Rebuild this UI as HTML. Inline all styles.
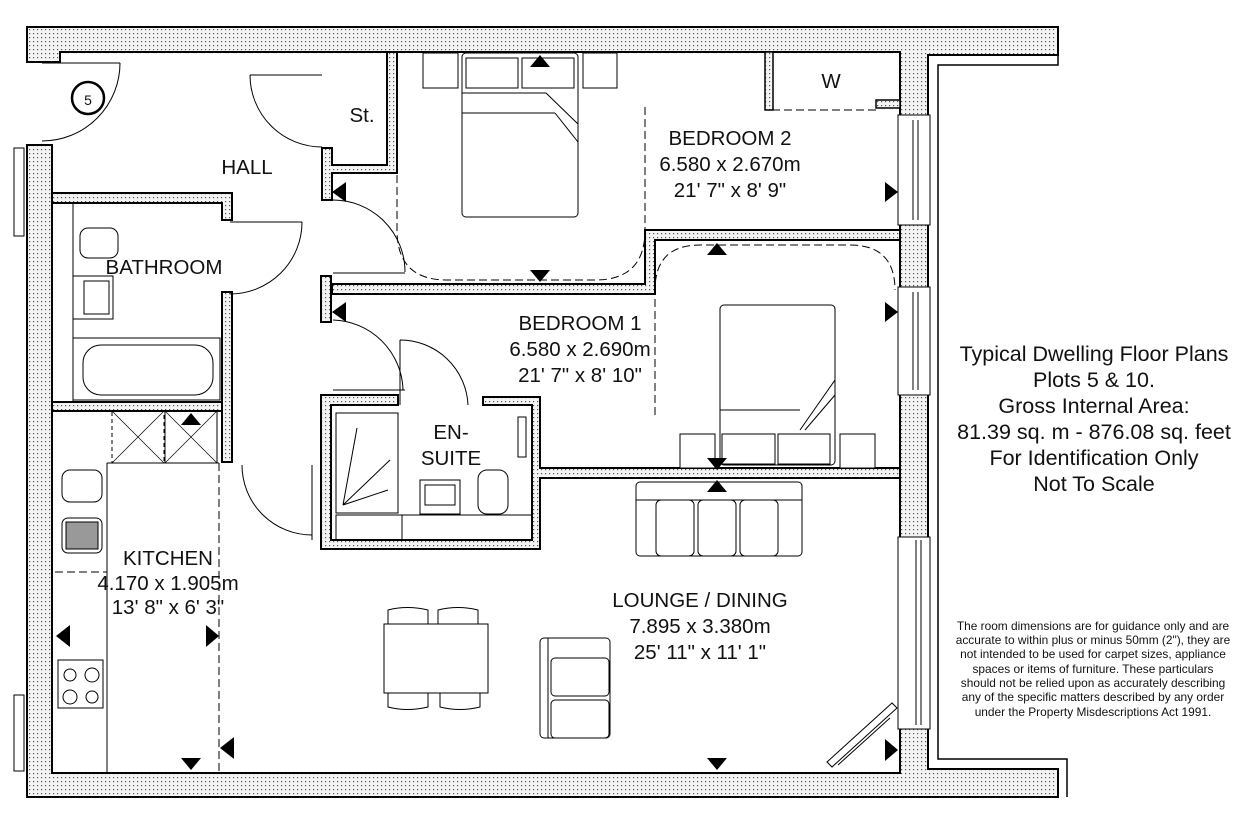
<!DOCTYPE html>
<html><head><meta charset="utf-8"><style>
html,body{margin:0;padding:0;background:#fff;}
svg{display:block;}
text{font-family:"Liberation Sans",Arial,sans-serif;fill:#111;}
</style></head><body>
<svg width="1254" height="817" viewBox="0 0 1254 817" xmlns="http://www.w3.org/2000/svg">
<defs>
<pattern id="dot" width="4" height="4" patternUnits="userSpaceOnUse">
<rect width="4" height="4" fill="#f4f4f4"/><rect x="1" y="1" width="1.2" height="1.2" fill="#555"/>
</pattern>
</defs>
<g stroke="#000" fill="url(#dot)">
<path d="M27,27 H1058 V55 H928 V769 H1058 V797 H27 V145 H52 V773 H900 V52 H60 V62 H27 Z" stroke-width="2"/>
<path d="M1058,52 V65 H938 V759 H1067 V797" fill="none" stroke-width="1.5"/>
<path d="M52,193 H232 V220 H222 V203 H52 Z" stroke-width="2"/>
<rect x="222" y="292" width="10" height="170" stroke-width="2"/>
<rect x="52" y="402" width="170" height="9" stroke-width="2"/>
<path d="M387,52 H397 V173 H332 V200 H322 V148 H332 V165 H387 Z" stroke-width="2"/>
<path d="M332,284 H645 V230 H900 V240 H655 V294 H332 Z" stroke-width="2"/>
<rect x="321" y="276" width="10" height="46" stroke-width="2"/>
<path d="M321,395 H398 V405 H331 V540 H532 V405 H483 V397 H540 V468 H900 V478 H540 V549 H321 Z" stroke-width="2"/>
<rect x="765" y="52" width="8" height="58" stroke-width="1.5"/>
<rect x="876" y="100" width="24" height="8" stroke-width="1.5"/>
</g>
<g fill="none" stroke="#000" stroke-width="1">
<rect x="898" y="115" width="32" height="110" fill="#fff"/><line x1="913" y1="120" x2="913" y2="220"/><line x1="918" y1="120" x2="918" y2="220"/>
<rect x="898" y="287" width="32" height="108" fill="#fff"/><line x1="913" y1="292" x2="913" y2="390"/><line x1="918" y1="292" x2="918" y2="390"/>
<rect x="898" y="537" width="32" height="192" fill="#fff"/><line x1="916" y1="540" x2="916" y2="725"/><line x1="921" y1="540" x2="921" y2="725"/>
<rect x="14" y="148" width="10" height="88"/><rect x="14" y="695" width="10" height="76"/>
<path d="M42,63 H120 M120,63 A78,78 0 0 1 42,141"/>
<path d="M250,75 H322 M250,75 A72,72 0 0 0 322,147"/>
<path d="M230,222 H302 M302,222 A72,72 0 0 1 230,294"/>
<path d="M333,273 H405 M333,200 A72,72 0 0 1 405,272"/>
<path d="M333,390 H405 M333,320 A72,72 0 0 1 403,390"/>
<path d="M400,340 V405 M400,340 A68,68 0 0 1 468,405"/>
<path d="M312,465 V540 M242,465 A70,70 0 0 0 312,535"/>
<circle cx="88" cy="98" r="16" stroke-width="2.5"/>
<g stroke-dasharray="8,4">
<path d="M397,175 V230 Q397,280 447,280 H595 Q645,280 645,230 V105"/>
<path d="M655,415 V290 Q655,245 700,245 H850 Q895,245 895,290"/>
<line x1="772" y1="110" x2="876" y2="110"/>
<line x1="219" y1="463" x2="219" y2="772"/>
<line x1="55" y1="572" x2="107" y2="572"/>
</g>
<rect x="423" y="53" width="35" height="35"/><rect x="466" y="58" width="52" height="30"/><rect x="522" y="58" width="52" height="30"/><rect x="583" y="53" width="34" height="35"/>
<rect x="462" y="53" width="116" height="164" rx="4"/><line x1="462" y1="93" x2="546" y2="93"/><line x1="462" y1="113" x2="555" y2="113"/><path d="M546,93 L578,124 M555,113 L578,142"/>
<rect x="720" y="305" width="115" height="160" rx="4"/><line x1="720" y1="410" x2="800" y2="410"/><path d="M800,430 L835,380 M805,430 L835,395"/>
<rect x="680" y="434" width="35" height="34" fill="#fff"/><rect x="722" y="434" width="53" height="30" fill="#fff"/><rect x="778" y="434" width="52" height="30" fill="#fff"/><rect x="840" y="434" width="35" height="34" fill="#fff"/>
<rect x="636" y="482" width="166" height="74" rx="4"/><line x1="636" y1="500" x2="802" y2="500"/>
<rect x="656" y="500" width="38" height="56" rx="5"/><rect x="698" y="500" width="38" height="56" rx="5"/><rect x="740" y="500" width="38" height="56" rx="5"/>
<rect x="540" y="638" width="70" height="100" rx="4"/><line x1="548" y1="638" x2="548" y2="738"/><rect x="551" y="658" width="58" height="38" rx="4"/><rect x="551" y="700" width="58" height="38" rx="4"/>
<rect x="384" y="624" width="104" height="69"/>
<path d="M388,624 V610 Q407,605 428,610 V624 M438,624 V610 Q458,605 478,610 V624"/>
<path d="M388,693 V707 Q407,712 428,707 V693 M440,693 V707 Q460,712 480,707 V693"/>
<path d="M827,762 L892,703 L897,708 L832,767 Z M838,765 L890,718"/>
<line x1="107" y1="463" x2="107" y2="772"/><line x1="107" y1="463" x2="219" y2="463"/>
<rect x="112" y="411" width="52" height="52" stroke-dasharray="4,3"/><rect x="165" y="411" width="52" height="52"/>
<path d="M112,411 L164,463 M164,411 L112,463 M165,411 L217,463 M217,411 L165,463" stroke-width="0.7"/>
<rect x="62" y="470" width="40" height="32" rx="8"/><rect x="62" y="518" width="40" height="35" rx="6"/>
<rect x="66" y="522" width="32" height="27" fill="#999"/>
<rect x="58" y="660" width="45" height="48"/><circle cx="70" cy="675" r="6"/><circle cx="92" cy="675" r="7"/><circle cx="70" cy="697" r="7"/><circle cx="92" cy="697" r="6"/>
<line x1="73" y1="203" x2="73" y2="402"/>
<rect x="80" y="228" width="38" height="30" rx="8"/>
<rect x="73" y="276" width="40" height="43"/><rect x="84" y="281" width="25" height="33"/>
<rect x="73" y="338" width="147" height="62"/><rect x="83" y="345" width="130" height="50" rx="18"/>
<rect x="336" y="413" width="62" height="100"/><path d="M343,505 L357,428 M343,505 L390,460 M343,505 L388,490"/>
<rect x="336" y="515" width="66" height="25"/><line x1="402" y1="515" x2="532" y2="515"/>
<rect x="420" y="480" width="40" height="34"/><rect x="425" y="485" width="30" height="20"/>
<rect x="478" y="470" width="30" height="44" rx="9"/>
<rect x="518" y="417" width="8" height="40"/>
</g>
<g fill="#000">
<path d="M530,67 h20 l-10,-12z"/><path d="M332,192 l14,-10 v20z"/><path d="M530,270 h20 l-10,12z"/>
<path d="M898,192 l-13,-10 v20z"/><path d="M707,255 h20 l-10,-12z"/><path d="M898,312 l-13,-10 v20z"/>
<path d="M332,312 l14,-10 v20z"/><path d="M707,458 h20 l-10,12z"/><path d="M707,492 h20 l-10,-12z"/>
<path d="M56,636 l14,-11 v22z"/><path d="M219,636 l-13,-11 v22z"/><path d="M181,758 h20 l-10,12z"/>
<path d="M220,748 l14,-11 v22z"/><path d="M707,758 h20 l-10,12z"/><path d="M898,750 l-13,-11 v22z"/>
<path d="M181,425 h20 l-10,-12z"/>
</g>
<g font-size="20.5" text-anchor="middle">
<text x="88" y="105" font-size="14">5</text>
<text x="247" y="174">HALL</text>
<text x="362" y="122">St.</text>
<text x="831" y="88">W</text>
<text x="730" y="145">BEDROOM 2</text><text x="730" y="171">6.580 x 2.670m</text><text x="730" y="197">21' 7" x 8' 9"</text>
<text x="164" y="274">BATHROOM</text>
<text x="580" y="330">BEDROOM 1</text><text x="580" y="356">6.580 x 2.690m</text><text x="580" y="382">21' 7" x 8' 10"</text>
<text x="451" y="439">EN-</text><text x="451" y="465">SUITE</text>
<text x="168" y="565">KITCHEN</text><text x="168" y="590">4.170 x 1.905m</text><text x="168" y="614">13' 8" x 6' 3"</text>
<text x="700" y="607">LOUNGE / DINING</text><text x="700" y="633">7.895 x 3.380m</text><text x="700" y="659">25' 11" x 11' 1"</text>
</g>
<g font-size="21.5" text-anchor="middle">
<text x="1094" y="361">Typical Dwelling Floor Plans</text><text x="1094" y="387">Plots 5 &amp; 10.</text><text x="1094" y="413">Gross Internal Area:</text><text x="1094" y="439">81.39 sq. m - 876.08 sq. feet</text><text x="1094" y="465">For Identification Only</text><text x="1094" y="491">Not To Scale</text>
</g>
<g font-size="11.9" text-anchor="middle">
<text x="1093" y="630">The room dimensions are for guidance only and are</text>
<text x="1093" y="644">accurate to within plus or minus 50mm (2"), they are</text>
<text x="1093" y="658">not intended to be used for carpet sizes, appliance</text>
<text x="1093" y="673">spaces or items of furniture. These particulars</text>
<text x="1093" y="687">should not be relied upon as accurately describing</text>
<text x="1093" y="701">any of the specific matters described by any order</text>
<text x="1093" y="716">under the Property Misdescriptions Act 1991.</text>
</g>
</svg>
</body></html>
